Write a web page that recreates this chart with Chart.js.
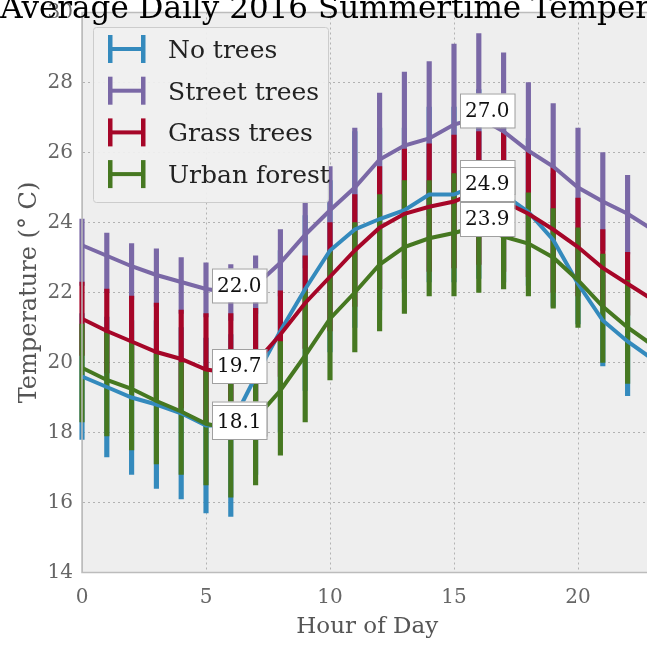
<!DOCTYPE html>
<html>
<head>
<meta charset="utf-8">
<script src="https://cdn.jsdelivr.net/npm/chart.js@4.4.1/dist/chart.umd.min.js"></script>
<style>
  html, body { margin: 0; padding: 0; background: #fff; overflow: hidden; }
  body { width: 647px; height: 647px; position: relative; }
  #wrap { position: absolute; left: 0; top: 0; width: 660px; height: 647px; }
</style>
</head>
<body>
<div id="wrap"><canvas id="chart" width="660" height="647" style="width:660px;height:647px"></canvas></div>
<script>
// === DADOS ===
const titleText = "Average Daily 2016 Summertime Temperature";
const xTitle = "Hour of Day";
const yTitle = "Temperature (° C)";

const hours = [0, 1, 2, 3, 4, 5, 6, 7, 8, 9, 10, 11, 12, 13, 14, 15, 16, 17, 18, 19, 20, 21, 22, 23];
const seriesNames = ["No trees", "Street trees", "Grass trees", "Urban forest"];
const seriesColors = ["#348ABD", "#7A68A6", "#A60628", "#467821"];

const noTreesMean = [19.6, 19.3, 19.0, 18.8, 18.55, 18.2, 18.2, 19.6, 20.9, 22.1, 23.2, 23.8, 24.1, 24.35, 24.8, 24.8, 25.1, 24.8, 24.3, 23.5, 22.25, 21.2, 20.6, 20.1];
const noTreesLow = [17.8, 17.3, 16.8, 16.4, 16.1, 15.7, 15.6, 16.8, 18.0, 19.2, 20.3, 21.0, 21.5, 22.0, 22.3, 22.3, 22.4, 22.3, 22.2, 21.6, 21.1, 19.9, 19.05, 18.4];
const noTreesHigh = [21.4, 21.3, 21.2, 21.2, 21.0, 20.7, 20.8, 22.4, 23.2, 24.2, 25.2, 26.6, 26.7, 26.7, 27.3, 27.3, 27.8, 27.3, 26.4, 25.4, 23.4, 22.5, 22.1, 21.8];

const streetMean = [23.35, 23.05, 22.75, 22.5, 22.3, 22.1, 22.0, 22.2, 22.85, 23.65, 24.35, 25.0, 25.8, 26.2, 26.4, 26.8, 27.0, 26.6, 26.05, 25.6, 25.0, 24.6, 24.25, 23.8];
const streetLow = [22.2, 22.0, 21.8, 21.6, 21.4, 21.3, 21.2, 21.4, 21.9, 22.7, 23.1, 23.3, 23.9, 24.1, 24.2, 24.5, 24.6, 24.4, 24.1, 23.8, 23.3, 23.2, 23.1, 22.5];
const streetHigh = [24.1, 23.7, 23.4, 23.25, 23.0, 22.85, 22.8, 23.05, 23.8, 24.6, 25.6, 26.7, 27.7, 28.3, 28.6, 29.1, 29.4, 28.85, 28.0, 27.4, 26.7, 26.0, 25.35, 24.7];

const grassMean = [21.25, 20.9, 20.6, 20.3, 20.1, 19.8, 19.7, 20.0, 20.8, 21.7, 22.45, 23.2, 23.85, 24.25, 24.45, 24.6, 24.9, 24.6, 24.25, 23.8, 23.3, 22.7, 22.25, 21.8];
const grassLow = [20.2, 19.7, 19.3, 18.9, 18.7, 18.2, 18.0, 18.4, 19.6, 20.4, 20.9, 21.6, 22.1, 22.4, 22.6, 22.7, 22.8, 22.6, 22.45, 22.0, 21.9, 21.6, 21.35, 21.0];
const grassHigh = [22.3, 22.1, 21.9, 21.7, 21.5, 21.4, 21.4, 21.55, 22.05, 23.05, 24.0, 24.8, 25.6, 26.1, 26.25, 26.5, 26.6, 26.6, 26.05, 25.6, 24.7, 23.8, 23.15, 22.6];

const urbanMean = [19.85, 19.5, 19.25, 18.9, 18.6, 18.25, 18.1, 18.4, 19.2, 20.2, 21.25, 22.0, 22.8, 23.3, 23.55, 23.7, 23.9, 23.6, 23.4, 23.0, 22.35, 21.6, 21.0, 20.5];
const urbanLow = [18.3, 17.9, 17.5, 17.1, 16.8, 16.5, 16.15, 16.5, 17.35, 18.3, 19.5, 20.3, 20.9, 21.4, 21.9, 21.9, 22.0, 22.1, 21.9, 21.55, 21.0, 20.0, 19.4, 18.8];
const urbanHigh = [21.1, 20.85, 20.55, 20.25, 20.0, 19.8, 19.6, 19.9, 20.6, 22.05, 23.2, 24.0, 24.8, 25.2, 25.2, 25.4, 25.5, 25.3, 24.85, 24.4, 23.85, 23.1, 22.35, 21.8];

const xTicks = [0, 5, 10, 15, 20];
const yTicks = [14, 16, 18, 20, 22, 24, 26, 28, 30];

// hours where the min / max labels are anchored
const minLabelHour = 5;
const maxLabelHour = 15;

const means = [noTreesMean, streetMean, grassMean, urbanMean];
const lows = [noTreesLow, streetLow, grassLow, urbanLow];
const highs = [noTreesHigh, streetHigh, grassHigh, urbanHigh];

const FONT = "'DejaVu Serif', serif";
Chart.defaults.font.family = FONT;

// === DATASETS ===
const datasets = [];
seriesNames.forEach((name, i) => {
  datasets.push({
    type: "bar",
    label: name + " err",
    data: hours.map((h, j) => ({ x: h, y: [lows[i][j], highs[i][j]] })),
    backgroundColor: seriesColors[i],
    barThickness: 4.5,
    grouped: false,
    clip: 6,
    order: 10 - i,
  });
  datasets.push({
    type: "line",
    label: name,
    data: hours.map((h, j) => ({ x: h, y: means[i][j] })),
    borderColor: seriesColors[i],
    borderWidth: 4,
    pointRadius: 0,
    tension: 0,
    fill: false,
    clip: 6,
    order: 5 - i,
  });
});

// === FUNDO, LEGENDA, RÓTULOS E TÍTULO ===
const decorPlugin = {
  id: "decor",
  beforeDraw(chart) {
    const { ctx, chartArea: a } = chart;
    ctx.save();
    ctx.fillStyle = "#eeeeee";
    ctx.fillRect(a.left, a.top, a.right - a.left, a.bottom - a.top);
    ctx.restore();
  },
  afterDraw(chart) {
    const { ctx, chartArea: a, scales } = chart;
    ctx.save();

    // spines
    ctx.strokeStyle = "#bcbcbc";
    ctx.lineWidth = 1.5;
    ctx.strokeRect(a.left, a.top, a.right - a.left, a.bottom - a.top);

    // min / max boxes
    ctx.font = "20px " + FONT;
    ctx.textBaseline = "middle";
    ctx.textAlign = "left";
    const box = (hour, v) => {
      const txt = v.toFixed(1);
      const w = ctx.measureText(txt).width + 10;
      const h = 34;
      const x = scales.x.getPixelForValue(hour) + 6;
      const y = scales.y.getPixelForValue(v) - 7 - h / 2;
      ctx.fillStyle = "#ffffff";
      ctx.fillRect(x, y, w, h);
      ctx.strokeStyle = "#a0a0a0";
      ctx.lineWidth = 1;
      ctx.strokeRect(x + 0.5, y + 0.5, w, h);
      ctx.fillStyle = "#111";
      ctx.fillText(txt, x + 5, y + h / 2 + 1);
    };
    means.forEach((m) => {
      box(minLabelHour, Math.min(...m));
      box(maxLabelHour, Math.max(...m));
    });

    // legend
    const lx = a.left + 11;
    const ly = a.top + 14.5;
    ctx.fillStyle = "rgba(240,240,240,0.92)";
    ctx.strokeStyle = "#cccccc";
    ctx.lineWidth = 1;
    ctx.beginPath();
    ctx.roundRect(lx + 0.5, ly + 0.5, 235, 175, 3);
    ctx.fill();
    ctx.stroke();
    ctx.font = "25px " + FONT;
    ctx.textBaseline = "alphabetic";
    seriesNames.forEach((name, i) => {
      const cy = ly + 22 + i * 41.7;
      const ix = lx + 15;
      ctx.fillStyle = seriesColors[i];
      ctx.fillRect(ix, cy - 14, 4.5, 28);
      ctx.fillRect(ix + 33, cy - 14, 4.5, 28);
      ctx.fillRect(ix, cy - 2, 37, 4);
      ctx.fillStyle = "#222";
      ctx.fillText(name, lx + 75, cy + 9);
    });

    // title
    ctx.font = "31px " + FONT;
    ctx.textAlign = "center";
    ctx.fillStyle = "#000";
    ctx.fillText(titleText, (a.left + a.right) / 2, 18);
    ctx.restore();
  },
};

// === GRÁFICO ===
const chart = new Chart(document.getElementById("chart").getContext("2d"), {
  type: "line",
  data: { datasets },
  plugins: [decorPlugin],
  options: {
    responsive: false,
    animation: false,
    layout: { padding: { left: 0, right: 7.6, top: 12.5, bottom: 0 } },
    plugins: {
      legend: { display: false },
      tooltip: { enabled: false },
    },
    scales: {
      x: {
        type: "linear",
        min: 0,
        max: 23,
        offset: false,
        afterFit: (s) => { s.height = 74.5; s.paddingLeft = 0; s.paddingRight = 0; },
        afterBuildTicks: (s) => { s.ticks = xTicks.map((v) => ({ value: v })); },
        ticks: { color: "#666", font: { size: 20 }, padding: 13, includeBounds: false },
        grid: { color: "#b2b2b2", drawTicks: false, offset: false },
        border: { display: true, color: "#bcbcbc", dash: [2, 3] },
        title: { display: true, text: xTitle, color: "#555", font: { size: 23 }, padding: { top: 0, bottom: 6 } },
      },
      y: {
        min: 14,
        max: 30,
        afterFit: (s) => { s.width = 82; s.paddingTop = 0; s.paddingBottom = 0; },
        afterBuildTicks: (s) => { s.ticks = yTicks.map((v) => ({ value: v })); },
        ticks: { color: "#666", font: { size: 20 }, padding: 9 },
        grid: { color: "#b2b2b2", drawTicks: false },
        border: { display: true, color: "#bcbcbc", dash: [2, 3] },
        title: { display: true, text: yTitle, color: "#555", font: { size: 24 }, padding: { top: 15, bottom: 0 } },
      },
    },
  },
});
</script>
</body>
</html>
